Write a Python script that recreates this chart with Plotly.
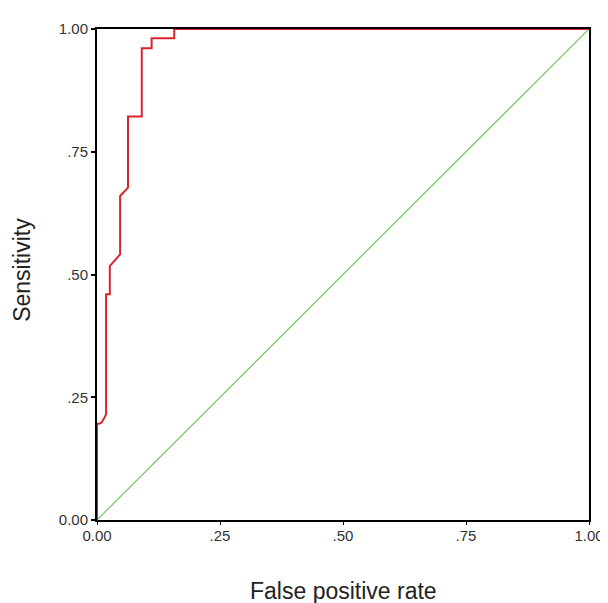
import plotly.graph_objects as go

# ROC curve values
fpr = [0.0, 0.0, 0.004, 0.009, 0.016, 0.0185, 0.0185, 0.026, 0.026, 0.047, 0.047, 0.063, 0.063,
       0.091, 0.091, 0.111, 0.111, 0.157, 0.157, 1.0]
sensitivity = [0.0, 0.196, 0.196, 0.198, 0.21, 0.216, 0.46, 0.46, 0.517, 0.541, 0.66, 0.677, 0.822,
               0.822, 0.961, 0.961, 0.981, 0.981, 1.0, 1.0]

ref_x = [0.0, 1.0]
ref_y = [0.0, 1.0]

tick_vals = [0.0, 0.25, 0.5, 0.75, 1.0]
tick_text = ["0.00", ".25", ".50", ".75", "1.00"]

x_title = "False positive rate"
y_title = "Sensitivity"

font_family = "Liberation Sans, Arial, sans-serif"

fig = go.Figure()
fig.add_trace(go.Scatter(x=ref_x, y=ref_y, mode="lines",
                         line=dict(color="#74c466", width=1.2), showlegend=False,
                         hoverinfo="skip"))
fig.add_trace(go.Scatter(x=fpr, y=sensitivity, mode="lines",
                         line=dict(color="#d8262f", width=2), showlegend=False))

axis_common = dict(
    range=[0, 1], tickvals=tick_vals, ticktext=tick_text,
    showgrid=False, zeroline=False, showline=True, linecolor="black", linewidth=2,
    mirror=True, ticks="outside", tickcolor="black",
    tickfont=dict(family=font_family, size=15, color="#333333"),
)

# the page body adds an 8px offset, so margins compensate for it
fig.update_layout(
    width=608, height=603,
    margin=dict(l=89, r=23, t=19, b=91),
    paper_bgcolor="white", plot_bgcolor="white",
    xaxis=dict(**axis_common, ticklen=3, tickwidth=1, ticklabelstandoff=-2),
    yaxis=dict(**axis_common, ticklen=4, tickwidth=2, layer="above traces"),
    annotations=[
        dict(text=x_title, xref="paper", yref="paper", x=0.5, y=-0.145,
             xanchor="center", yanchor="middle", showarrow=False,
             font=dict(family=font_family, size=23, color="#222222")),
        dict(text=y_title, xref="paper", yref="paper", x=-0.153, y=0.509,
             xanchor="center", yanchor="middle", showarrow=False, textangle=-90,
             font=dict(family=font_family, size=23, color="#222222")),
    ],
)

fig.write_html("out.html")
